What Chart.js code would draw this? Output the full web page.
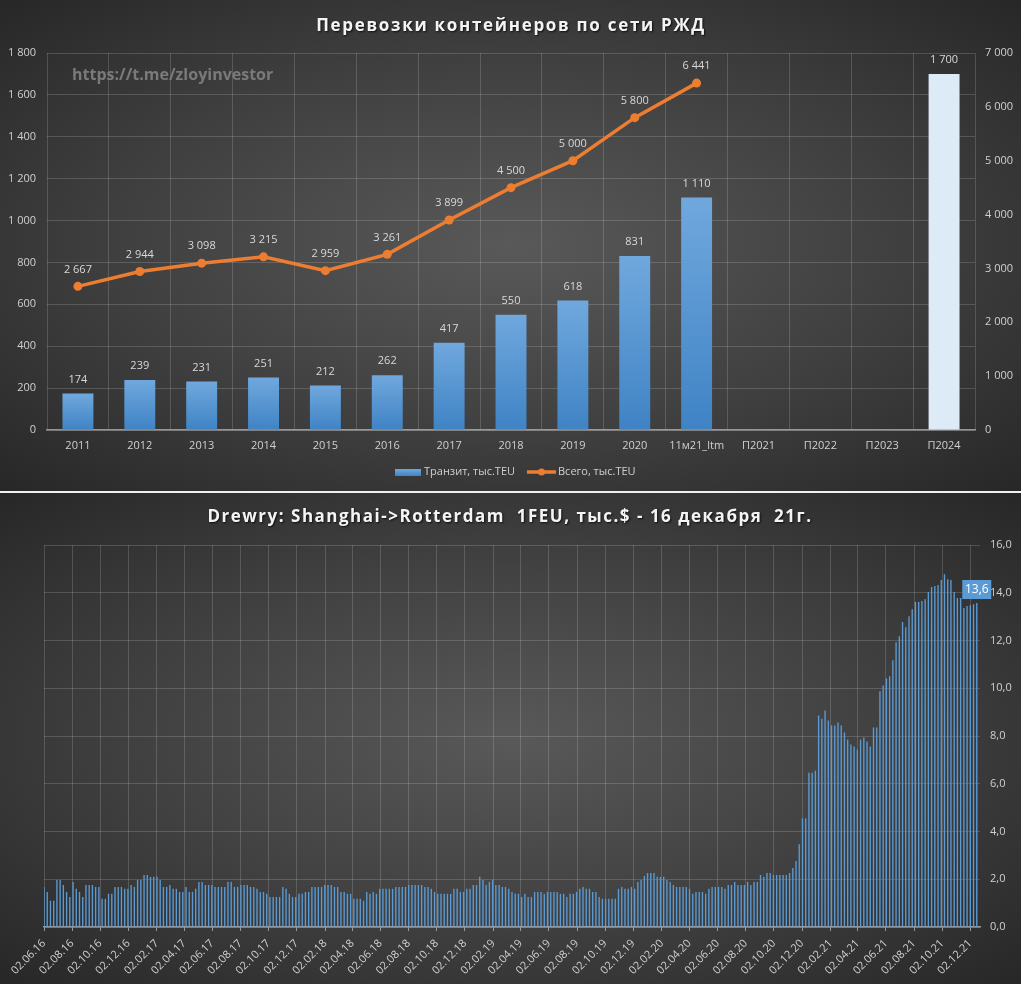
<!DOCTYPE html>
<html>
<head>
<meta charset="utf-8">
<script src="https://cdn.jsdelivr.net/npm/chart.js@4.4.1/dist/chart.umd.min.js"></script>
<style>
html,body{margin:0;padding:0;background:#262626;}
.panel{position:relative;width:1021px;height:491px;
  background:radial-gradient(ellipse farthest-corner at 50% 50%, #595959 0%, #3f3f3f 55%, #272727 100%);}
#sep{width:1021px;height:2px;background:#f0f0f0;}
canvas{display:block;}
</style>
</head>
<body>
<div class="panel"><canvas id="railChart" width="1021" height="491"></canvas></div>
<div id="sep"></div>
<div class="panel"><canvas id="freightChart" width="1021" height="491"></canvas></div>
<script>
// --- top chart: RZD container traffic ---
const years = ['2011','2012','2013','2014','2015','2016','2017','2018','2019','2020','11м21_ltm','П2021','П2022','П2023','П2024'];
const transit = [174, 239, 231, 251, 212, 262, 417, 550, 618, 831, 1110, null, null, null, 1700];
const total = [2667, 2944, 3098, 3215, 2959, 3261, 3899, 4500, 5000, 5800, 6441, null, null, null, null];
const leftTicks = [0, 1800, 200];
const rightTicks = [0, 7000, 1000];

// --- bottom chart: Drewry WCI Shanghai->Rotterdam, weekly from 02.06.16 ---
const firstWeek = '02.06.16';
const wci = [
  1.68,1.47,1.10,1.10,1.97,1.97,1.76,1.47,1.26,1.89,
  1.60,1.47,1.26,1.76,1.76,1.76,1.68,1.68,1.18,1.18,
  1.39,1.39,1.68,1.68,1.68,1.60,1.60,1.76,1.68,1.97,
  1.97,2.18,2.18,2.10,2.10,2.10,1.97,1.68,1.68,1.76,
  1.60,1.60,1.47,1.47,1.68,1.47,1.47,1.60,1.89,1.89,
  1.76,1.76,1.76,1.68,1.68,1.68,1.68,1.89,1.89,1.68,
  1.68,1.76,1.76,1.76,1.68,1.68,1.60,1.47,1.47,1.39,
  1.26,1.26,1.26,1.26,1.68,1.60,1.39,1.26,1.26,1.39,
  1.39,1.47,1.47,1.68,1.68,1.68,1.68,1.76,1.76,1.76,
  1.68,1.68,1.47,1.47,1.39,1.39,1.18,1.18,1.18,1.10,
  1.47,1.39,1.47,1.39,1.60,1.60,1.60,1.60,1.60,1.68,
  1.68,1.68,1.68,1.76,1.76,1.76,1.76,1.76,1.68,1.68,
  1.60,1.47,1.39,1.39,1.39,1.39,1.39,1.60,1.60,1.47,
  1.47,1.60,1.60,1.76,1.76,2.10,1.97,1.76,1.89,1.97,
  1.76,1.76,1.68,1.68,1.60,1.47,1.39,1.39,1.26,1.39,
  1.26,1.26,1.47,1.47,1.47,1.39,1.47,1.47,1.47,1.47,
  1.39,1.39,1.26,1.39,1.39,1.47,1.60,1.68,1.60,1.60,
  1.47,1.47,1.26,1.18,1.18,1.18,1.18,1.18,1.60,1.68,
  1.60,1.60,1.68,1.60,1.89,1.97,2.14,2.26,2.26,2.26,
  2.10,2.10,2.10,1.97,1.89,1.76,1.68,1.68,1.68,1.68,
  1.60,1.39,1.47,1.47,1.47,1.39,1.60,1.68,1.68,1.68,
  1.68,1.60,1.76,1.76,1.89,1.76,1.76,1.76,1.89,1.76,
  1.89,1.89,2.18,2.10,2.26,2.26,2.18,2.18,2.18,2.18,
  2.18,2.26,2.47,2.76,3.47,4.55,4.55,6.46,6.46,6.55,
  8.86,8.72,9.07,8.65,8.44,8.44,8.57,8.44,8.15,7.85,
  7.64,7.56,7.43,7.85,7.94,7.77,7.56,8.36,8.36,9.87,
  10.12,10.41,10.50,11.17,11.93,12.18,12.77,12.56,13.02,13.31,
  13.61,13.61,13.65,13.73,14.03,14.24,14.28,14.32,14.53,14.78,
  14.57,14.53,14.03,13.78,13.78,13.36,13.44,13.48,13.52,13.57
];
const dateTicks = ['02.06.16','02.08.16','02.10.16','02.12.16','02.02.17','02.04.17','02.06.17','02.08.17',
  '02.10.17','02.12.17','02.02.18','02.04.18','02.06.18','02.08.18','02.10.18','02.12.18','02.02.19',
  '02.04.19','02.06.19','02.08.19','02.10.19','02.12.19','02.02.20','02.04.20','02.06.20','02.08.20',
  '02.10.20','02.12.20','02.02.21','02.04.21','02.06.21','02.08.21','02.10.21','02.12.21'];
const rateTicks = [0, 16, 2];

const FONT = '"Open Sans", sans-serif';
const tickColor = '#d0d0d0';
const gridColor = 'rgba(255,255,255,0.16)';
const axisColor = 'rgba(217,217,217,0.6)';

Chart.defaults.font.family = FONT;

function fmtThousands(v){
  return String(v).replace(/\B(?=(\d{3})+(?!\d))/g, ' ');
}
function fmtComma(v){
  return Number(v).toFixed(1).replace('.', ',');
}
function toDay(s){
  const p = s.split('.');
  return Date.UTC(2000 + Number(p[2]), Number(p[1]) - 1, Number(p[0])) / 864e5;
}

function drawTitle(ctx, text, x, y, spacing){
  ctx.save();
  ctx.font = 'bold 17px ' + FONT;
  ctx.letterSpacing = spacing;
  ctx.textAlign = 'center';
  ctx.textBaseline = 'middle';
  ctx.shadowColor = 'rgba(0,0,0,0.75)';
  ctx.shadowOffsetX = 1;
  ctx.shadowOffsetY = 1;
  ctx.shadowBlur = 2;
  ctx.fillStyle = '#f4f4f4';
  ctx.fillText(text, x, y);
  ctx.restore();
}

function barFill(c){
  if(c.type !== 'data') return '#5b9bd5';
  const i = c.dataIndex;
  if(years[i] === 'П2024') return '#ddebf7';
  const chart = c.chart;
  const area = chart.chartArea;
  const ys = chart.scales.y;
  if(!area || !ys || transit[i] == null) return '#5b9bd5';
  const top = ys.getPixelForValue(transit[i]);
  const g = chart.ctx.createLinearGradient(0, top, 0, area.bottom);
  g.addColorStop(0, '#70a8dd');
  g.addColorStop(1, '#3f83c5');
  return g;
}

const railDecor = {
  id: 'railDecor',
  afterDatasetsDraw(chart){
    const ctx = chart.ctx;
    ctx.save();
    ctx.font = '11px ' + FONT;
    ctx.fillStyle = '#d9d9d9';
    ctx.textAlign = 'center';
    ctx.textBaseline = 'middle';
    chart.getDatasetMeta(0).data.forEach((bar, i) => {
      if(transit[i] == null) return;
      ctx.fillText(fmtThousands(transit[i]), bar.x, bar.y - 14);
    });
    chart.getDatasetMeta(1).data.forEach((pt, i) => {
      if(total[i] == null) return;
      ctx.fillText(fmtThousands(total[i]), pt.x, pt.y - 17);
    });
    ctx.restore();
  },
  afterDraw(chart){
    const ctx = chart.ctx;
    drawTitle(ctx, 'Перевозки контейнеров по сети РЖД', 511, 26, '1.7px');

    // watermark
    ctx.save();
    ctx.font = 'bold 16px ' + FONT;
    ctx.fillStyle = '#7a7a7a';
    ctx.textBaseline = 'middle';
    ctx.fillText('https://t.me/zloyinvestor', 72, 75);

    // legend
    ctx.font = '11px ' + FONT;
    const g = ctx.createLinearGradient(0, 469, 0, 476);
    g.addColorStop(0, '#70a8dd');
    g.addColorStop(1, '#3f83c5');
    ctx.fillStyle = g;
    ctx.fillRect(395, 469, 26, 7);
    ctx.fillStyle = '#d0d0d0';
    ctx.fillText(chart.data.datasets[0].label, 424, 472);
    ctx.strokeStyle = '#ed7d31';
    ctx.lineWidth = 3.5;
    ctx.beginPath();
    ctx.moveTo(527, 472);
    ctx.lineTo(556, 472);
    ctx.stroke();
    ctx.fillStyle = '#ed7d31';
    ctx.beginPath();
    ctx.arc(541.5, 472, 3.5, 0, Math.PI * 2);
    ctx.fill();
    ctx.fillStyle = '#d0d0d0';
    ctx.fillText(chart.data.datasets[1].label, 558, 472);
    ctx.restore();
  }
};

new Chart(document.getElementById('railChart'), {
  data: {
    labels: years,
    datasets: [
      {
        type: 'bar', label: 'Транзит, тыс.TEU', data: transit, yAxisID: 'y', order: 2,
        backgroundColor: barFill, categoryPercentage: 1, barPercentage: 0.5
      },
      {
        type: 'line', label: 'Всего, тыс.TEU', data: total, yAxisID: 'y2', order: 1,
        borderColor: '#ed7d31', backgroundColor: '#ed7d31', borderWidth: 3.5,
        pointRadius: 4.5, pointBorderWidth: 0, tension: 0
      }
    ]
  },
  options: {
    responsive: false,
    animation: false,
    layout: { padding: { top: 53, left: 0, right: 0, bottom: 0 } },
    plugins: { legend: { display: false }, tooltip: { enabled: false } },
    scales: {
      x: {
        grid: { color: gridColor, offset: true, drawTicks: false },
        border: { color: axisColor, width: 1.5 },
        ticks: { color: tickColor, font: { size: 11 }, padding: 9, maxRotation: 0, autoSkip: false },
        afterFit(s){ s.height = 61; }
      },
      y: {
        position: 'left', min: leftTicks[0], max: leftTicks[1],
        ticks: { stepSize: leftTicks[2], color: tickColor, font: { size: 11 }, padding: 11, callback: fmtThousands },
        grid: { color: gridColor, drawTicks: false },
        border: { display: false },
        afterFit(s){ s.width = 47; }
      },
      y2: {
        position: 'right', min: rightTicks[0], max: rightTicks[1],
        ticks: { stepSize: rightTicks[2], color: tickColor, font: { size: 11 }, padding: 10, callback: fmtThousands },
        grid: { drawOnChartArea: false, drawTicks: false },
        border: { display: false },
        afterFit(s){ s.width = 46; }
      }
    }
  },
  plugins: [railDecor]
});

// --- bottom chart ---
const day0 = toDay(firstWeek);
const tickDays = dateTicks.map(s => toDay(s) - day0);

const freightDecor = {
  id: 'freightDecor',
  afterDatasetsDraw(chart){
    const ctx = chart.ctx;
    const meta = chart.getDatasetMeta(0);
    const bar = meta.data[meta.data.length - 1];
    ctx.save();
    ctx.fillStyle = '#5b9bd5';
    ctx.fillRect(bar.x - 14.5, bar.y - 23, 29, 19);
    ctx.fillStyle = '#ffffff';
    ctx.font = '12px ' + FONT;
    ctx.textAlign = 'center';
    ctx.textBaseline = 'middle';
    ctx.fillText(fmtComma(wci[wci.length - 1]), bar.x, bar.y - 13.5);
    ctx.restore();
  },
  afterDraw(chart){
    drawTitle(chart.ctx, 'Drewry: Shanghai->Rotterdam  1FEU, тыс.$ - 16 декабря  21г.', 510, 24, '1.5px');
  }
};

new Chart(document.getElementById('freightChart'), {
  type: 'bar',
  data: {
    datasets: [{
      label: 'WCI',
      data: wci.map((v, i) => ({ x: i * 7, y: v })),
      backgroundColor: '#5b9bd5',
      categoryPercentage: 1,
      barPercentage: 0.42
    }]
  },
  options: {
    responsive: false,
    animation: false,
    layout: { padding: { top: 52, left: 44, right: 0, bottom: 0 } },
    plugins: { legend: { display: false }, tooltip: { enabled: false } },
    scales: {
      x: {
        type: 'linear', min: 0, max: 2030, offset: false,
        afterBuildTicks(s){ s.ticks = tickDays.map(v => ({ value: v })); },
        ticks: {
          autoSkip: false, maxRotation: 45, minRotation: 45, color: tickColor,
          font: { size: 11 }, padding: 6,
          callback: (v, i) => dateTicks[i]
        },
        grid: { color: gridColor, offset: false, tickColor: axisColor, tickLength: 4 },
        border: { color: axisColor, width: 1.5 },
        afterFit(s){ s.height = 57; }
      },
      y: {
        position: 'right', min: rateTicks[0], max: rateTicks[1],
        ticks: { stepSize: rateTicks[2], color: tickColor, font: { size: 11 }, padding: 10, callback: fmtComma },
        grid: { color: gridColor, drawTicks: false },
        border: { display: false },
        afterFit(s){ s.width = 41; }
      }
    }
  },
  plugins: [freightDecor]
});
</script>
</body>
</html>
